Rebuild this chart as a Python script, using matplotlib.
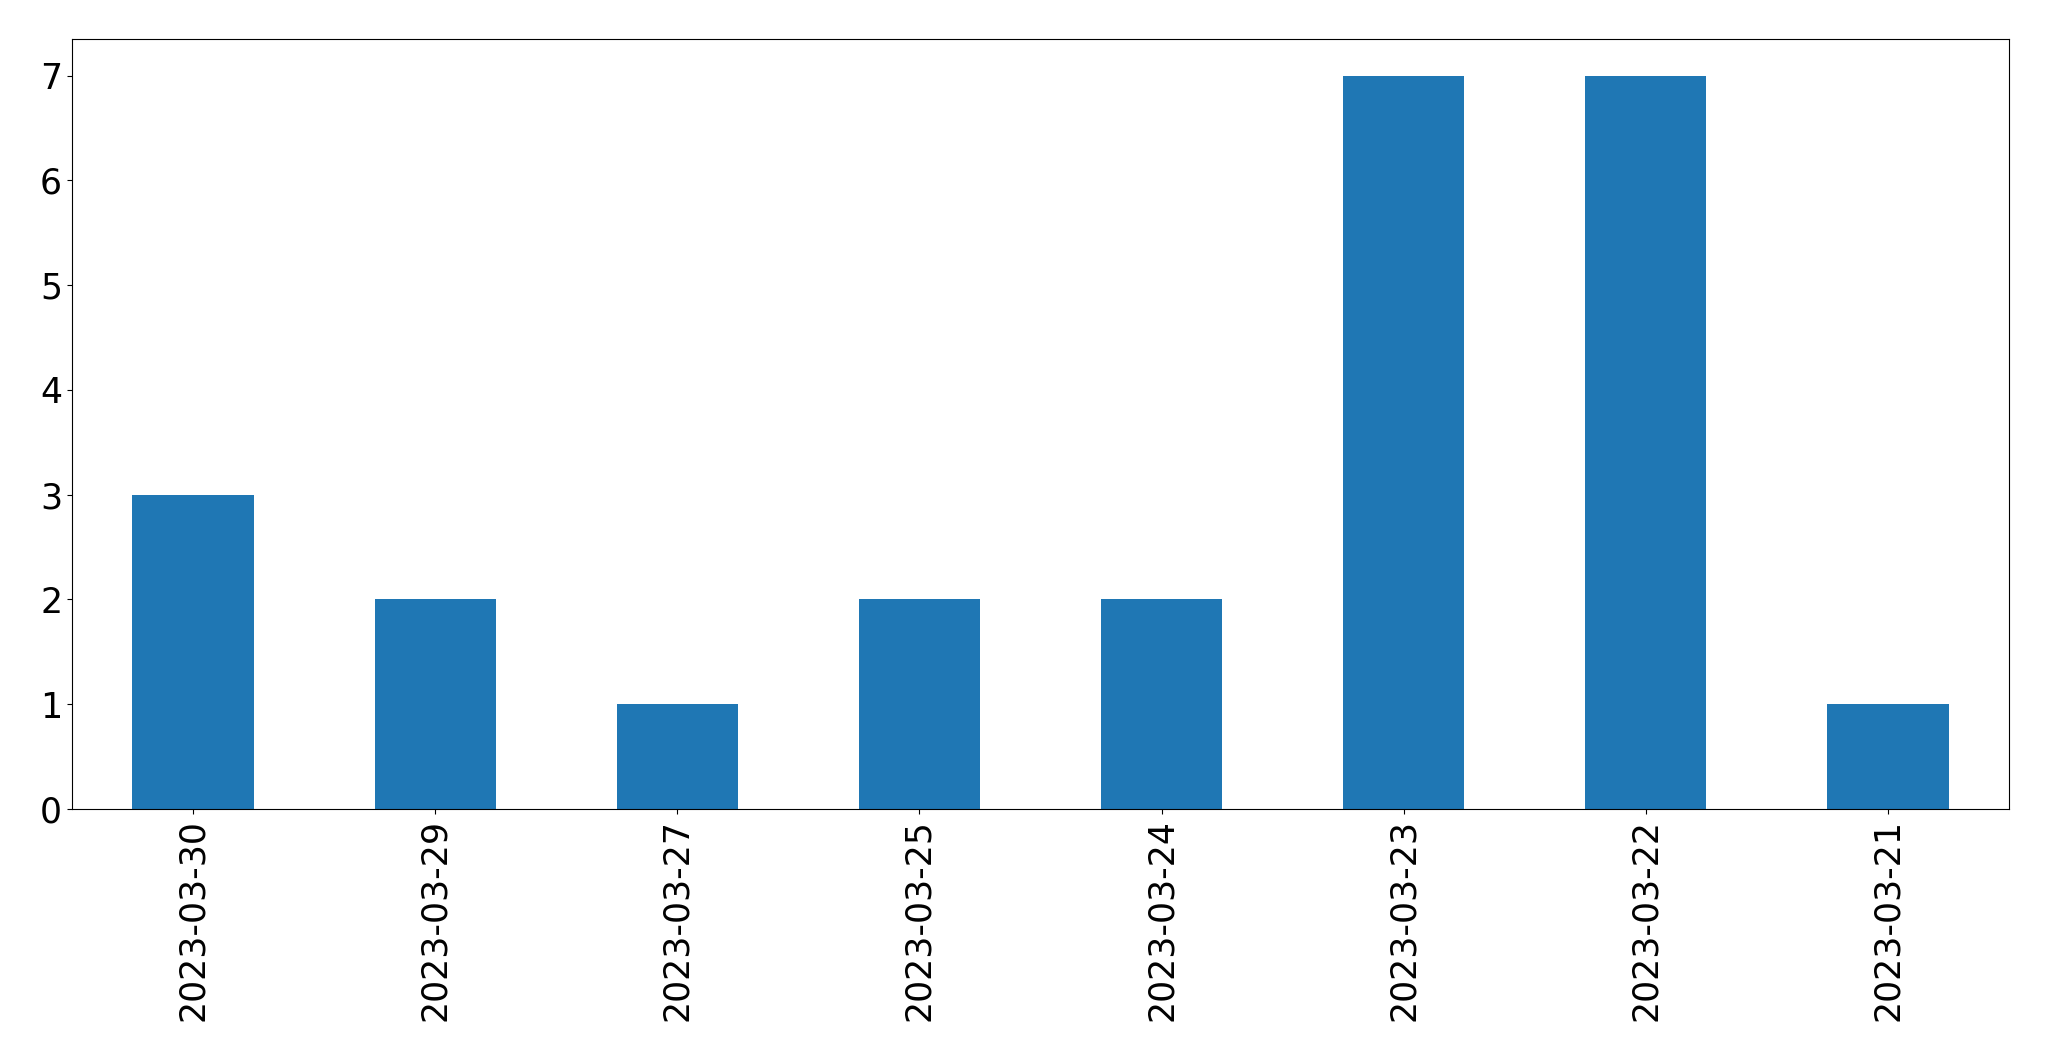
import matplotlib.pyplot as plt
import pandas as pd

dates = ['2023-03-30', '2023-03-29', '2023-03-27', '2023-03-25',
         '2023-03-24', '2023-03-23', '2023-03-22', '2023-03-21']
counts = [3, 2, 1, 2, 2, 7, 7, 1]

s = pd.Series(counts, index=dates)

fig = plt.figure(figsize=(20.49, 10.61), dpi=100)
ax = fig.add_axes([0.0351, 0.2375, 0.9454, 0.7257])
s.plot(kind='bar', ax=ax, fontsize=25)
ax.set_yticks(range(0, 8))

plt.savefig('out.png', dpi=100)
